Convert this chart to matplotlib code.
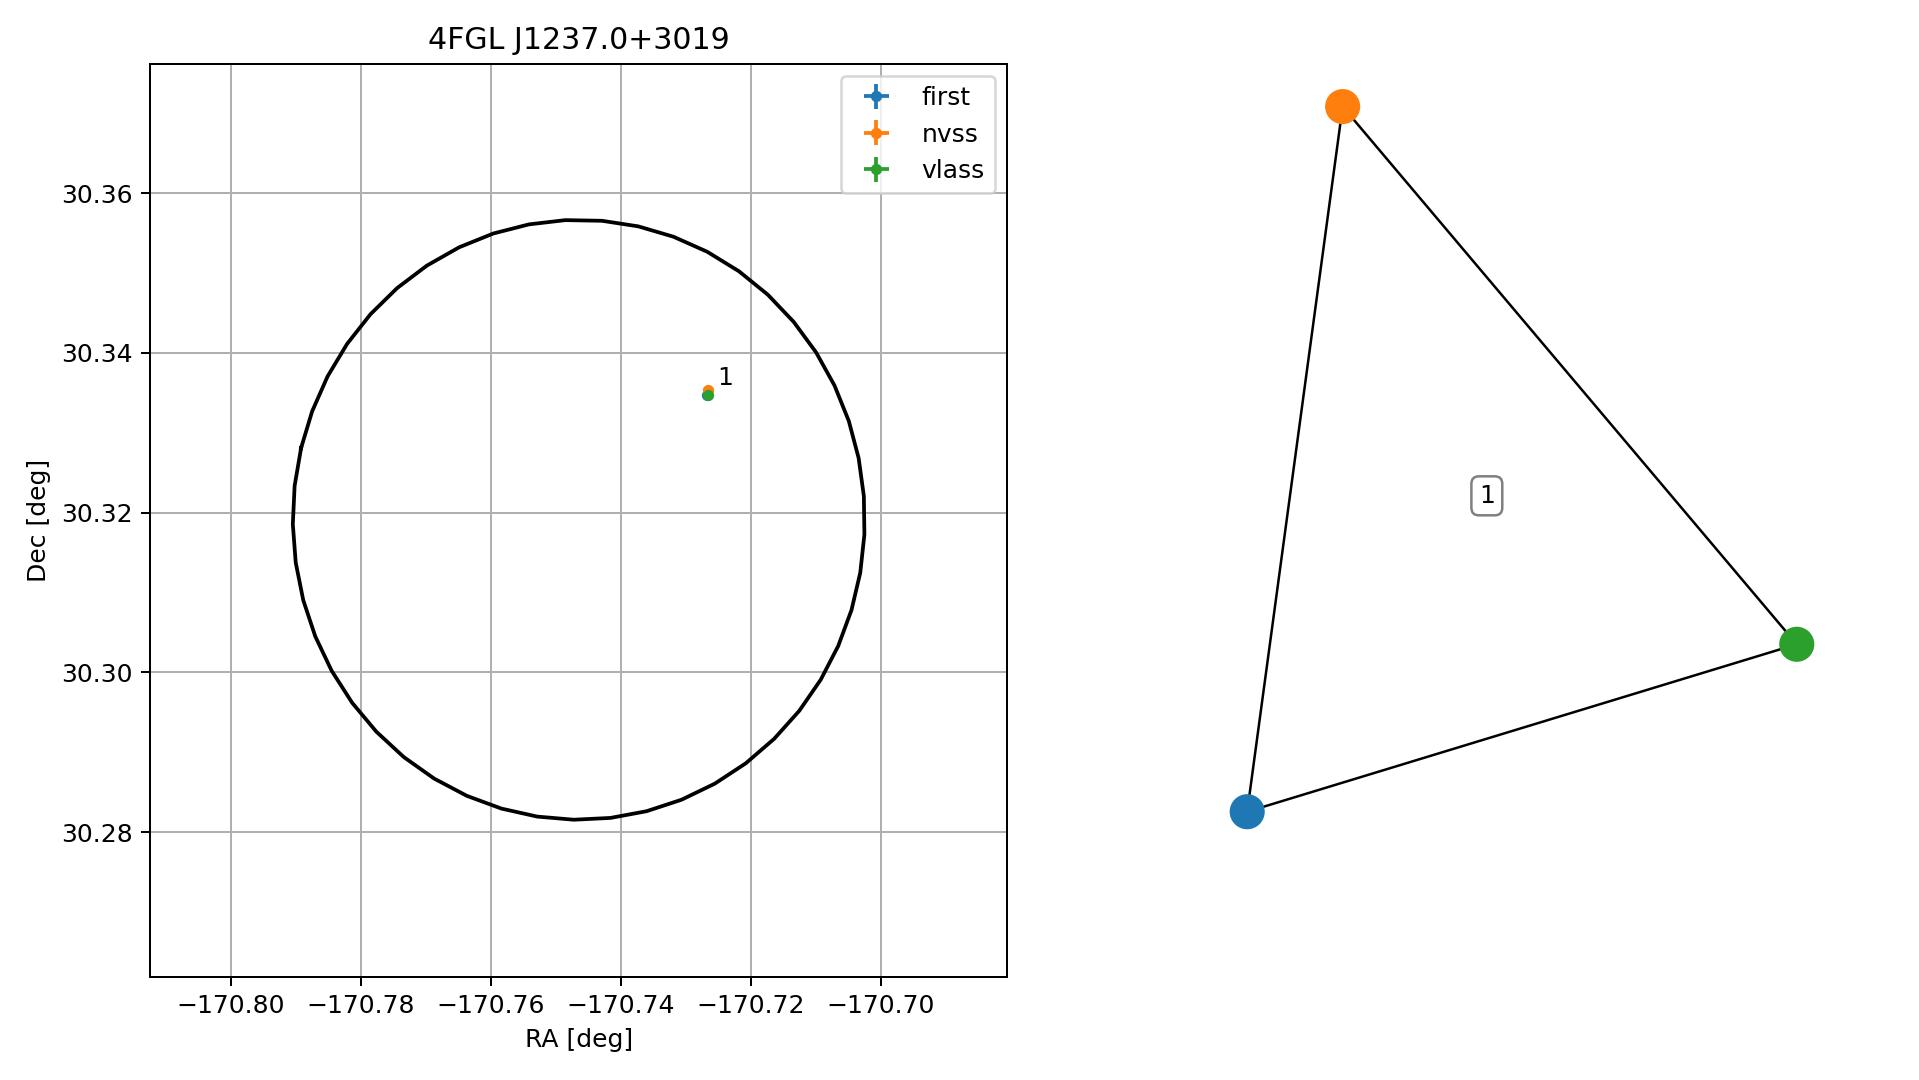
import numpy as np
import matplotlib
matplotlib.use("Agg")
import matplotlib.pyplot as plt

# -*- source and error circle
title = "4FGL J1237.0+3019"
circ_ra, circ_dec = -170.7465, 30.3191
circ_r_ra, circ_r_dec = 0.0440, 0.03755

# -*- radio counterparts (RA, Dec, errors)
surveys = ["first", "nvss", "vlass"]
ra = [-170.72675, -170.72668, -170.72660]
dec = [30.33470, 30.33530, 30.33470]
ra_err = [0.00015, 0.00070, 0.00010]
dec_err = [0.00012, 0.00060, 0.00010]
match_label = "1"

# -*- match graph (layout positions)
node_x = [-0.811, -0.523, 0.847]
node_y = [-0.615, 0.981, -0.236]
edges = [(0, 1), (1, 2), (2, 0)]
graph_label_xy = (-0.088, 0.100)

colors = ["#1f77b4", "#ff7f0e", "#2ca02c"]

DPI = 180
fig = plt.figure(figsize=(1919 / DPI, 1080 / DPI), dpi=DPI)
ax = fig.add_axes([0.0784, 0.0956, 0.4464, 0.8455])

# error circle drawn as a polygon
phi = np.linspace(0, 2 * np.pi, 50) + 2.9
ax.plot(circ_ra + circ_r_ra * np.cos(phi),
        circ_dec + circ_r_dec * np.sin(phi), color="black")

for i, name in enumerate(surveys):
    ax.errorbar(ra[i], dec[i], xerr=ra_err[i], yerr=dec_err[i], fmt="o",
                markersize=3.5, color=colors[i], label=name)
ax.annotate(match_label, (ra[1], dec[1]), xytext=(4, 2),
            textcoords="offset points", fontsize=10)

ax.set_xlim(-170.8124, -170.6806)
ax.set_ylim(30.2619, 30.3762)
ax.set_xticks([-170.80, -170.78, -170.76, -170.74, -170.72, -170.70])
ax.set_xlabel("RA [deg]")
ax.set_ylabel("Dec [deg]")
ax.set_title(title)
ax.grid(True)
ax.legend(loc="upper right")

# -*- match graph
ax2 = fig.add_axes([0.6, 0.05, 0.38, 0.9])
for a, b in edges:
    ax2.plot([node_x[a], node_x[b]], [node_y[a], node_y[b]],
             color="black", lw=1.0, zorder=1)
ax2.scatter(node_x, node_y, s=170, c=colors, zorder=2)
ax2.text(graph_label_xy[0], graph_label_xy[1], match_label, ha="center",
         va="center", fontsize=10,
         bbox=dict(boxstyle="round", fc="white", ec="gray"))
ax2.set_xlim(-1.1, 1.1)
ax2.set_ylim(-1.1, 1.1)
ax2.axis("off")

fig.savefig("out.png", dpi=DPI)
